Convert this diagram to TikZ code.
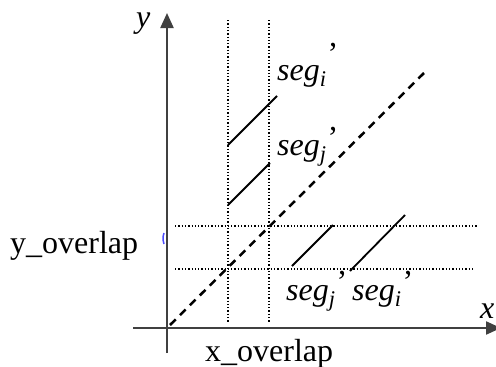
\documentclass[tikz,border=0pt]{standalone}
\usepackage{fontspec}
\setmainfont{Liberation Serif}
\usetikzlibrary{arrows.meta}
\newcommand{\seglbl}[2]{\textit{seg}\textsubscript{\textit{#1}}\kern1pt\raisebox{#2}{’}}

\begin{document}
\begin{tikzpicture}[x=1pt, y=-1pt, every node/.style={font=\fontsize{32}{38}\selectfont, inner sep=0pt},
  axis/.style={line width=2.2pt, black!75, -{Triangle[length=15pt,width=13pt]}},
  guide/.style={line width=2.2pt, dash pattern=on 1.3pt off 2pt},
  seg/.style={line width=1.8pt}]
  \useasboundingbox (0,0) rectangle (496,367);
  % axes
  \draw[axis] (167,353) -- (167,13);
  \draw[axis] (133,328) -- (501,328);
  \node[anchor=base west] (ylab) at (136,27) {\textit{y}};
  \node[anchor=base west] (xlab) at (480,318) {\textit{x}};
  % overlap guides
  \draw[guide] (228,20) -- (228,323);
  \draw[guide] (269,20) -- (269,323);
  \draw[guide] (175,226) -- (477,226);
  \draw[guide] (175,269) -- (473,269);
  \draw[line width=2.5pt, dash pattern=on 8pt off 6pt] (170,325) -- (424,73);
  % segments
  \draw[seg] (228,145) -- (277,96);
  \draw[seg] (228,205) -- (270,163);
  \draw[seg] (292,266) -- (333,225);
  \draw[seg] (350,271) -- (405,215);
  \node[anchor=base west] (segi1) at (277,80) {\seglbl{i}{16pt}};
  \node[anchor=base west] (segj1) at (277,155) {\seglbl{j}{7pt}};
  \node[anchor=base west] (segj2) at (286,300) {\seglbl{j}{8pt}};
  \node[anchor=base west] (segi2) at (352,300) {\seglbl{i}{8pt}};
  % overlap labels
  \node[anchor=base west] (yov) at (10,253) {y\_overlap};
  \node[anchor=base west] (xov) at (205,361) {x\_overlap};
  \draw[blue!70, line width=1.5pt] (164,233) arc[start angle=160, end angle=200, radius=16pt];
\end{tikzpicture}
\end{document}
